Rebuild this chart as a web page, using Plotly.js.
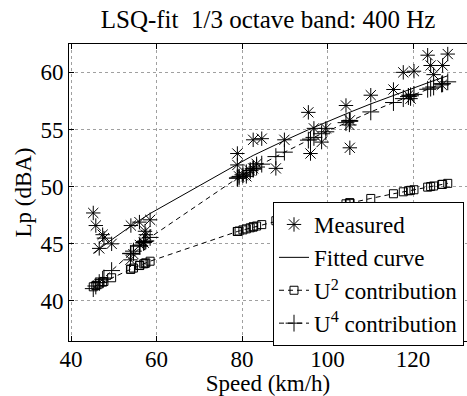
<!DOCTYPE html>
<html>
<head>
<meta charset="utf-8">
<script src="https://cdn.plot.ly/plotly-3.0.1.min.js"></script>
<style>
html,body{margin:0;padding:0;background:#fff;}
#chart svg text{font-family:'Liberation Serif','Times New Roman',serif !important;}
</style>
</head>
<body>
<div id="chart" style="width:467px;height:396px;"></div>
<script>
// Speeds (km/h) of the measured pass-bys, sorted
const speed = [45.2,45.8,46.6,47.4,47.7,49.5,53.9,54.0,54.6,56.0,56.1,57.0,57.3,57.5,58.5,
  78.9,78.9,79.3,80.2,81.0,81.9,82.6,82.6,83.4,84.6,87.9,89.9,95.5,96.0,96.8,98.6,99.6,
  104.3,105.1,105.2,105.2,110.1,115.4,117.7,118.9,119.4,120.2,123.4,124.1,124.8,126.7,126.9,128.1];
// Measured Lp (dBA)
const measured = [47.7,46.6,44.6,45.8,45.5,45.0,43.6,46.6,44.1,46.9,44.9,45.1,46.1,45.8,47.1,
  52.9,51.9,50.9,51.0,50.9,51.4,54.1,51.6,52.0,54.2,51.6,54.1,56.5,52.9,55.1,53.9,55.1,
  57.1,55.4,55.8,53.4,58.0,58.5,60.0,58.0,57.7,60.1,61.5,60.6,59.8,58.9,60.6,61.6];
// Fitted curve (dBA)
const fitted = [44.17,44.34,44.57,44.79,44.87,45.36,46.52,46.54,46.69,47.04,47.07,47.29,47.36,47.41,47.65,
  52.02,52.02,52.10,52.28,52.43,52.59,52.73,52.73,52.88,53.09,53.68,54.03,54.98,55.06,55.20,55.49,55.64,
  56.37,56.50,56.51,56.51,57.24,58.00,58.32,58.49,58.55,58.66,59.09,59.18,59.27,59.52,59.55,59.70];
// U^2 contribution (dBA)
const u2 = [41.24,41.35,41.50,41.65,41.71,42.03,42.77,42.78,42.88,43.10,43.12,43.25,43.30,43.33,43.48,
  46.08,46.08,46.12,46.22,46.31,46.40,46.48,46.48,46.56,46.68,47.02,47.21,47.74,47.78,47.85,48.01,48.10,
  48.50,48.57,48.58,48.58,48.97,49.38,49.55,49.64,49.68,49.73,49.96,50.01,50.06,50.19,50.21,50.29];
// U^4 contribution (dBA)
const u4 = [41.08,41.31,41.61,41.90,42.01,42.66,44.14,44.17,44.36,44.80,44.83,45.11,45.20,45.26,45.56,
  50.75,50.75,50.84,51.04,51.21,51.40,51.55,51.55,51.72,51.97,52.63,53.02,54.07,54.16,54.31,54.63,54.80,
  55.60,55.74,55.75,55.75,56.54,57.36,57.70,57.88,57.95,58.07,58.52,58.62,58.72,58.98,59.01,59.17];

const xTicks = [40,60,80,100,120];
const yTicks = [40,45,50,55,60];
const names = ['Measured','Fitted curve','U<sup>2</sup> contribution','U<sup>4</sup> contribution'];

const FONT = 'Liberation Serif';

const traces = [
  {x: speed, y: measured, name: names[0], type:'scatter', mode:'markers',
   marker:{symbol:'asterisk-open', size:12, color:'#000', line:{color:'#000', width:1}}},
  {x: speed, y: fitted, name: names[1], type:'scatter', mode:'lines',
   line:{color:'#000', width:1}},
  {x: speed, y: u2, name: names[2], type:'scatter', mode:'lines+markers',
   line:{color:'#000', width:1, dash:'5px,4px'},
   marker:{symbol:'square-open', size:8, color:'#000', line:{color:'#000', width:1}}},
  {x: speed, y: u4, name: names[3], type:'scatter', mode:'lines+markers',
   line:{color:'#000', width:1, dash:'5px,4px'},
   marker:{symbol:'cross-thin-open', size:12, color:'#000', line:{color:'#000', width:1}}}
];

function axisBase() {
  return {
    ticks:'inside', ticklen:5, tickwidth:1, tickcolor:'#000',
    showline:true, linecolor:'#000', linewidth:1,
    showgrid:true, gridcolor:'#a0a0a0', griddash:'dot', gridwidth:1,
    zeroline:false, tickfont:{family:FONT, size:23, color:'#000'}
  };
}

const xaxis = axisBase();
Object.assign(xaxis, {
  range:[39.53, 132.6], tickvals:xTicks, ticktext:xTicks.map(String), mirror:'ticks',
  ticklabelstandoff:-3,
  title:{text:'Speed (km/h)', font:{family:FONT, size:23, color:'#000'}, standoff:0}
});
const yaxis = axisBase();
Object.assign(yaxis, {
  range:[36.5, 62.48], tickvals:yTicks, ticktext:yTicks.map(String), mirror:false,
  title:{text:'Lp (dBA)', font:{family:FONT, size:23, color:'#000'}, standoff:2}
});

const layout = {
  width:467, height:396,
  margin:{l:69, r:0, t:44, b:55, pad:0},
  paper_bgcolor:'#fff', plot_bgcolor:'#fff',
  font:{family:FONT, color:'#000', size:23},
  showlegend:true,
  title:{text:'LSQ-fit\u00a0 1/3 octave band: 400 Hz', font:{family:FONT, size:25, color:'#000'},
         x:0.574, xanchor:'center', y:0.952, yanchor:'middle', yref:'container'},
  xaxis: xaxis,
  yaxis: yaxis,
  legend:{x:0.5126, y:0.468, xanchor:'left', yanchor:'top', xref:'paper', yref:'paper',
    bgcolor:'#fff', bordercolor:'#000', borderwidth:1,
    font:{family:FONT, size:23, color:'#000'}, itemwidth:30, tracegroupgap:0}
};

Plotly.newPlot('chart', traces, layout, {displayModeBar:false, staticPlot:true});
</script>
</body>
</html>
